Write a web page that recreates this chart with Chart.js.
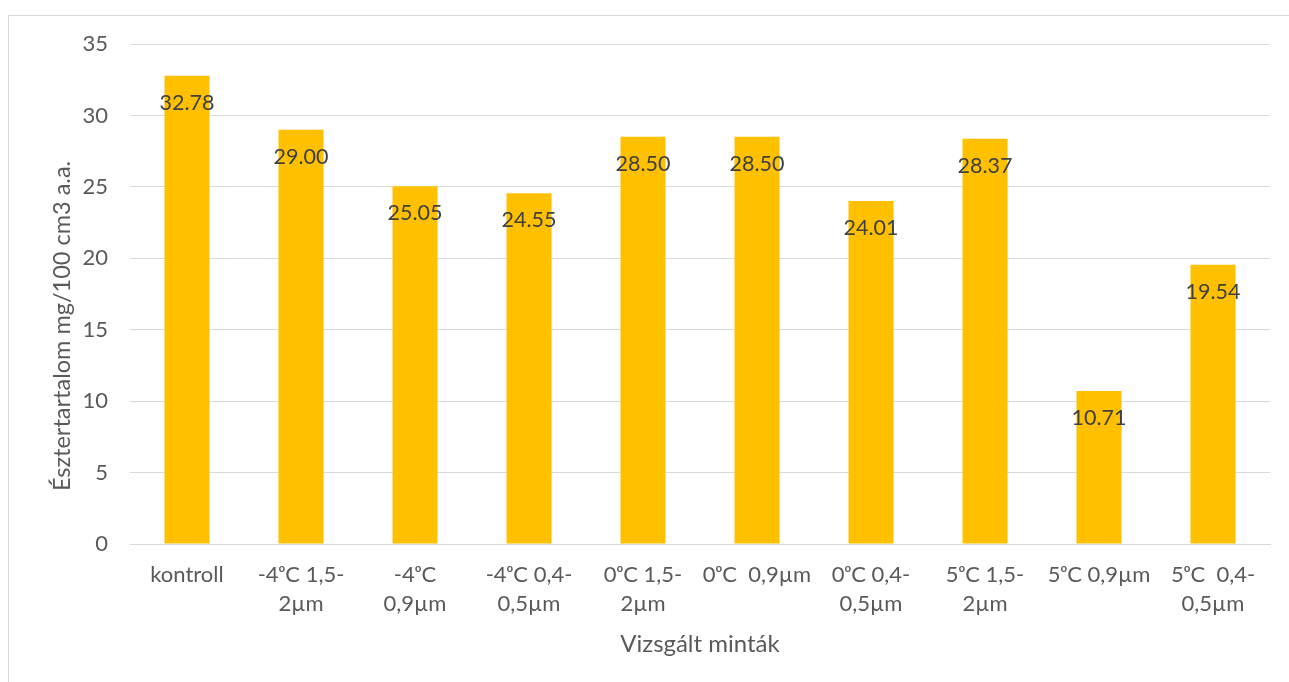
<!DOCTYPE html>
<html>
<head>
<meta charset="utf-8">
<script src="https://cdn.jsdelivr.net/npm/chart.js@4"></script>
<style>
  html, body { margin: 0; padding: 0; background: #ffffff; overflow: hidden; }
  #frame { position: absolute; left: 8px; top: 15px; width: 1400px; height: 800px;
           border: 1px solid #d9d9d9; box-sizing: border-box; }
  #wrap { position: absolute; left: 0; top: 0; width: 1289px; height: 682px; }
</style>
</head>
<body>
<div id="frame"></div>
<div id="wrap"><canvas id="c" width="1289" height="682"></canvas></div>
<script>
// Sample names (multi-line where they wrap under the bars)
const categories = [
  ['kontroll'],
  ['-4\u1D52C 1,5-', '2\u00B5m'],
  ['-4\u1D52C', '0,9\u00B5m'],
  ['-4\u1D52C 0,4-', '0,5\u00B5m'],
  ['0\u1D52C 1,5-', '2\u00B5m'],
  ['0\u1D52C  0,9\u00B5m'],
  ['0\u1D52C 0,4-', '0,5\u00B5m'],
  ['5\u1D52C 1,5-', '2\u00B5m'],
  ['5\u1D52C 0,9\u00B5m'],
  ['5\u1D52C  0,4-', '0,5\u00B5m']
];
// Ester content, mg/100 cm3 a.a.
const esterValues = [32.78, 29.00, 25.05, 24.55, 28.50, 28.50, 24.01, 28.37, 10.71, 19.54];
const yTicks = [0, 5, 10, 15, 20, 25, 30, 35];
const xTitle = 'Vizsgált minták';
const yTitle = 'Észtertartalom mg/100 cm3 a.a.';

const FONT = 'Lato, "Open Sans", sans-serif';

// Value labels just inside the top of each bar
const valueLabels = {
  id: 'valueLabels',
  afterDatasetsDraw(chart) {
    const ctx = chart.ctx;
    const meta = chart.getDatasetMeta(0);
    ctx.save();
    ctx.font = '21.5px ' + FONT;
    ctx.fillStyle = '#404040';
    ctx.textAlign = 'center';
    ctx.textBaseline = 'middle';
    meta.data.forEach((bar, i) => {
      ctx.fillText(esterValues[i].toFixed(2), bar.x, bar.y + 27);
    });
    ctx.restore();
  }
};

// Vertical axis title
const yAxisTitle = {
  id: 'yAxisTitle',
  afterDraw(chart) {
    const ctx = chart.ctx;
    ctx.save();
    ctx.translate(62, 326);
    ctx.rotate(-Math.PI / 2);
    ctx.font = '23.5px ' + FONT;
    ctx.fillStyle = '#595959';
    ctx.textAlign = 'center';
    ctx.textBaseline = 'middle';
    ctx.fillText(yTitle, 0, 0);
    ctx.restore();
  }
};

new Chart(document.getElementById('c'), {
  type: 'bar',
  data: {
    labels: categories,
    datasets: [{
      data: esterValues,
      backgroundColor: '#FFC000',
      borderWidth: 0,
      categoryPercentage: 1,
      barPercentage: 0.395
    }]
  },
  options: {
    responsive: false,
    animation: false,
    devicePixelRatio: 1,
    layout: { padding: { left: 0, top: 44, right: 19, bottom: 0 } },
    plugins: { legend: { display: false }, tooltip: { enabled: false } },
    scales: {
      x: {
        grid: { display: false, drawTicks: false },
        border: { display: true, color: '#d9d9d9', width: 1 },
        ticks: {
          color: '#595959',
          font: { family: FONT, size: 22, lineHeight: 1.32 },
          padding: 16,
          maxRotation: 0,
          autoSkip: false
        },
        title: {
          display: true,
          text: xTitle,
          color: '#595959',
          font: { family: FONT, size: 24, lineHeight: 1.2 },
          padding: { top: 0, bottom: 23 }
        },
        afterFit(scale) { scale.height = 138; }
      },
      y: {
        min: 0,
        max: 35,
        afterBuildTicks(scale) { scale.ticks = yTicks.map(v => ({ value: v })); },
        grid: { color: '#d9d9d9', lineWidth: 1, drawTicks: false },
        border: { display: false },
        ticks: {
          color: '#595959',
          font: { family: FONT, size: 22 },
          padding: 22
        },
        afterFit(scale) { scale.width = 130; }
      }
    }
  },
  plugins: [valueLabels, yAxisTitle]
});
</script>
</body>
</html>
